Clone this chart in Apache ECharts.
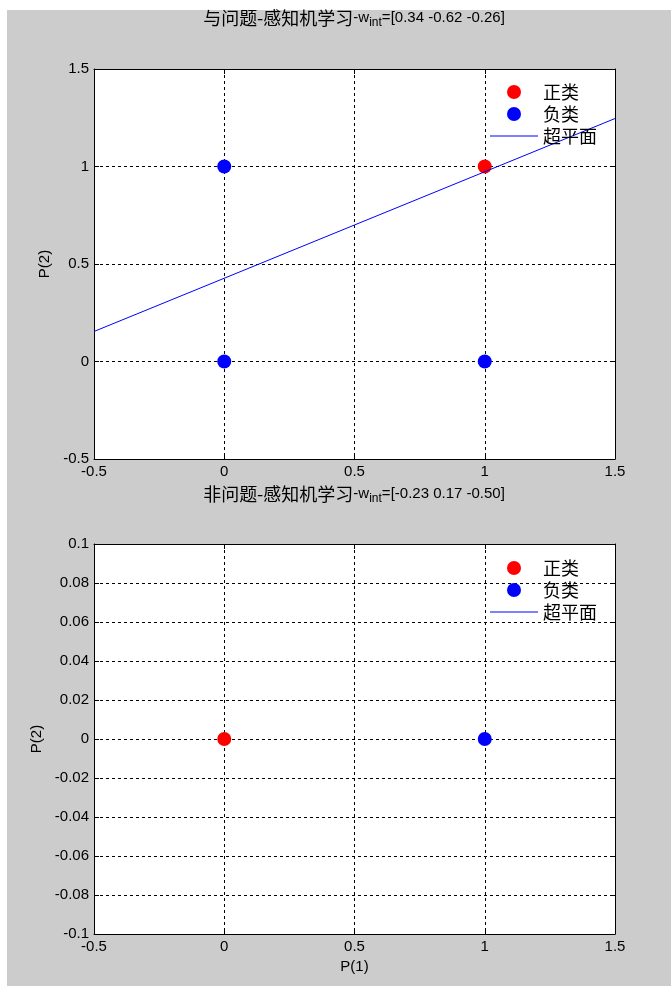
<!DOCTYPE html>
<html>
<head>
<meta charset="utf-8">
<script src="https://cdn.jsdelivr.net/npm/echarts@6/dist/echarts.min.js"></script>
<style>
  html, body { margin: 0; padding: 0; background: #ffffff; }
  #fig { position: absolute; left: 7px; top: 10px; width: 664px; height: 976px; background: #cccccc; }
  #chart { position: absolute; left: 0; top: 0; width: 671px; height: 986px; }
</style>
</head>
<body>
<div id="fig"></div>
<div id="chart"></div>
<script>
// Perceptron learning on two boolean problems: AND (top) and NOT (bottom)
const legendNames = ['正类', '负类', '超平面'];

// AND problem: positive / negative samples and learned separating line
const andPositive = [[1, 1]];
const andNegative = [[0, 0], [0, 1], [1, 0]];
const andHyperplane = [[-0.5, 0.154], [1.5, 1.246]];
const andTitleCn = '与问题-感知机学习';
const andWeights = '=[0.34 -0.62 -0.26]';

// NOT problem: single input, second coordinate fixed at 0
const notPositive = [[0, 0]];
const notNegative = [[1, 0]];
const notHyperplane = [];
const notTitleCn = '非问题-感知机学习';
const notWeights = '=[-0.23 0.17 -0.50]';

// Axis ranges
const xRange = { min: -0.5, max: 1.5, interval: 0.5 };
const andYRange = { min: -0.5, max: 1.5, interval: 0.5 };
const notYRange = { min: -0.1, max: 0.1, interval: 0.02 };

const xName = 'P(1)';
const yName = 'P(2)';

const LATIN = "'Liberation Sans', Arial, sans-serif";
const CJK = "'Noto Sans CJK SC', sans-serif";

const gridBox = [
  { left: 94, top: 69, width: 521, height: 390 },
  { left: 94, top: 544, width: 521, height: 390 }
];

function axisBase(gi, range, pos, labels) {
  return {
    type: 'value', gridIndex: gi, position: pos,
    min: range.min, max: range.max, interval: range.interval,
    axisLine: { show: true, onZero: false, lineStyle: { color: '#000', width: 1 } },
    axisTick: { show: true, inside: true, length: 5, lineStyle: { color: '#000' } },
    axisLabel: labels ? {
      show: true, color: '#000', fontFamily: LATIN, fontSize: 15, margin: 5,
      formatter: v => String(parseFloat(v.toFixed(4)))
    } : { show: false },
    splitLine: labels ? { show: true, lineStyle: { color: '#000', width: 1, type: [3, 3] } } : { show: false }
  };
}

const xAxes = [
  axisBase(0, xRange, 'bottom', true),
  axisBase(0, xRange, 'top', false),
  Object.assign(axisBase(1, xRange, 'bottom', true), {
    name: xName, nameLocation: 'middle', nameGap: 25,
    nameTextStyle: { color: '#000', fontFamily: LATIN, fontSize: 15 }
  }),
  axisBase(1, xRange, 'top', false)
];

function yNamed(gi, range) {
  return Object.assign(axisBase(gi, range, 'left', true), {
    name: yName, nameLocation: 'middle', nameGap: 41, nameRotate: 90,
    nameTextStyle: { color: '#000', fontFamily: LATIN, fontSize: 15 }
  });
}
const yAxes = [
  yNamed(0, andYRange),
  axisBase(0, andYRange, 'right', false),
  yNamed(1, notYRange),
  axisBase(1, notYRange, 'right', false)
];

function titleFor(cn, weights, top) {
  return {
    left: 354, top: top, textAlign: 'center', padding: 0,
    text: '{cn|' + cn + '}{w|-w}{sub|int}{w|' + weights + '}',
    textStyle: {
      fontWeight: 'normal',
      rich: {
        cn: { fontFamily: CJK, fontSize: 18, fontWeight: 'normal', color: '#000', lineHeight: 24, verticalAlign: 'middle' },
        w: { fontFamily: LATIN, fontSize: 15, fontWeight: 'normal', color: '#000', lineHeight: 24, verticalAlign: 'middle' },
        sub: { fontFamily: LATIN, fontSize: 12, fontWeight: 'normal', color: '#000', lineHeight: 24, padding: [9, 0, 0, 0] }
      }
    }
  };
}

function legendFor(top) {
  return {
    orient: 'vertical', left: 490, top: top, padding: 0,
    itemWidth: 48, itemHeight: 14, itemGap: 4,
    textStyle: { fontFamily: CJK, fontSize: 18, color: '#000', padding: [0, 0, 0, 0] },
    data: [
      { name: legendNames[0], icon: 'circle' },
      { name: legendNames[1], icon: 'circle' },
      { name: legendNames[2], icon: 'path://M0,0H48V1H0Z',
        itemStyle: { color: '#0000ff', borderWidth: 0 }, lineStyle: { width: 0 } }
    ]
  };
}

function seriesFor(gi, pos, neg, line) {
  return [
    { type: 'scatter', name: legendNames[0], xAxisIndex: gi * 2, yAxisIndex: gi * 2,
      data: pos, symbol: 'circle', symbolSize: 14, itemStyle: { color: '#ff0000', opacity: 1 }, z: 2 },
    { type: 'scatter', name: legendNames[1], xAxisIndex: gi * 2, yAxisIndex: gi * 2,
      data: neg, symbol: 'circle', symbolSize: 14, itemStyle: { color: '#0000ff', opacity: 1 }, z: 2 },
    { type: 'line', name: legendNames[2], xAxisIndex: gi * 2, yAxisIndex: gi * 2,
      data: line, symbol: 'none', showSymbol: false, clip: true, color: '#0000ff',
      itemStyle: { color: '#0000ff' }, lineStyle: { color: '#0000ff', width: 1 }, z: 3 }
  ];
}

const chart = echarts.init(document.getElementById('chart'), null, { renderer: 'canvas' });
chart.setOption({
  backgroundColor: 'transparent',
  animation: false,
  title: [titleFor(andTitleCn, andWeights, 6), titleFor(notTitleCn, notWeights, 482)],
  legend: [legendFor(83), legendFor(559)],
  grid: gridBox.map(g => Object.assign({ show: true, backgroundColor: '#ffffff', borderWidth: 0, containLabel: false }, g)),
  xAxis: xAxes,
  yAxis: yAxes,
  series: seriesFor(0, andPositive, andNegative, andHyperplane)
    .concat(seriesFor(1, notPositive, notNegative, notHyperplane))
});
</script>
</body>
</html>
